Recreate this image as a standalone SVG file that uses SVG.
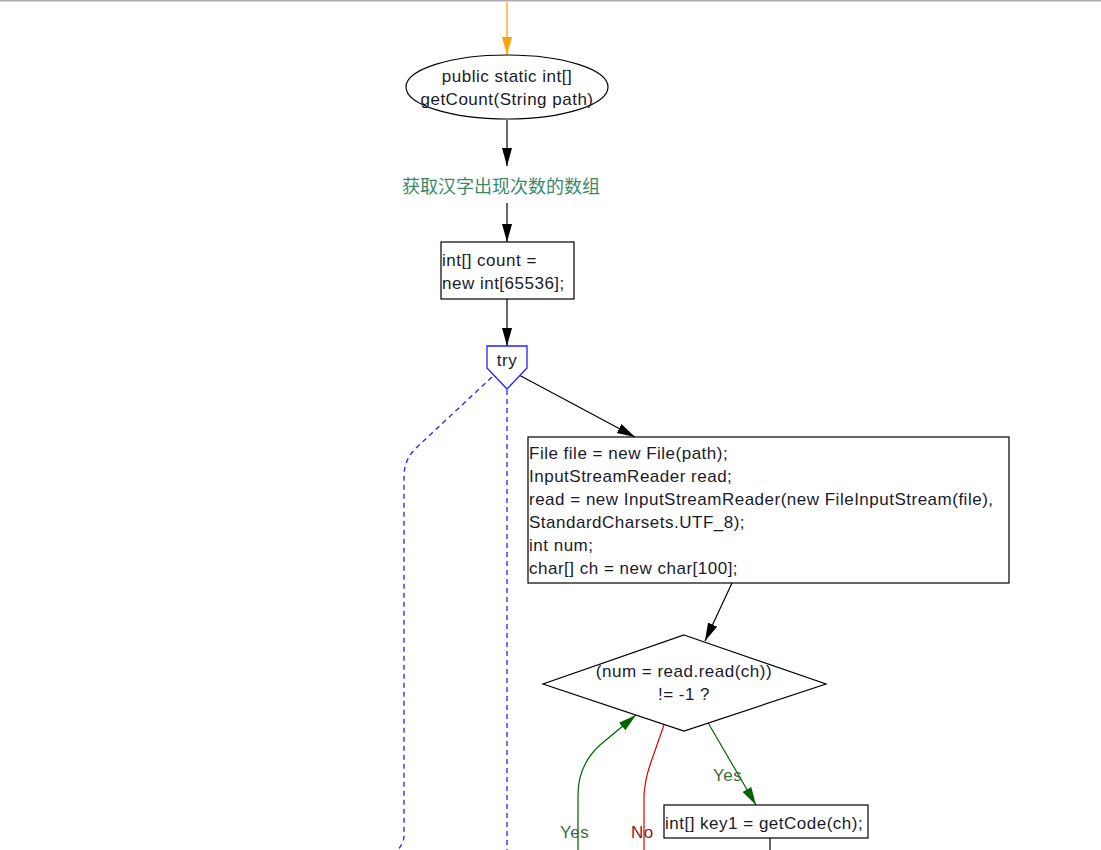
<svg xmlns="http://www.w3.org/2000/svg" width="1101" height="850" viewBox="0 0 1101 850">
<defs>
<style>
.t{font-family:"Liberation Sans",Arial,sans-serif;font-size:17px;letter-spacing:0.5px;fill:#1a1a2a}
.c{text-anchor:middle}
.n{fill:#fff;stroke:#000;stroke-width:1.2}
.e{fill:none;stroke:#000;stroke-width:1.2}
.d{fill:none;stroke:#2020ff;stroke-width:1.3;stroke-dasharray:5,4}
.g{fill:none;stroke:#006400;stroke-width:1.2}
.r{fill:none;stroke:#e00000;stroke-width:1.2}
</style>
<marker id="ab" markerUnits="userSpaceOnUse" markerWidth="20" markerHeight="12" refX="18" refY="6" orient="auto"><path d="M0,1 L18,6 L0,11 Z" fill="#000"/></marker>
<marker id="ag" markerUnits="userSpaceOnUse" markerWidth="20" markerHeight="12" refX="18" refY="6" orient="auto"><path d="M0,1 L18,6 L0,11 Z" fill="#006400"/></marker>
<marker id="ao" markerUnits="userSpaceOnUse" markerWidth="20" markerHeight="12" refX="18" refY="6" orient="auto"><path d="M0,1 L18,6 L0,11 Z" fill="#ffa500"/></marker>
</defs>
<rect width="1101" height="850" fill="#fff"/>
<line x1="0" y1="0.8" x2="1101" y2="0.8" stroke="#aaa" stroke-width="1.6"/>
<g id="connectors">
<line x1="507" y1="2" x2="507" y2="55" stroke="#ffa500" stroke-width="1.3" marker-end="url(#ao)"/>
<line class="e" x1="507" y1="120" x2="507" y2="166" marker-end="url(#ab)"/>
<line class="e" x1="507" y1="203" x2="507" y2="242" marker-end="url(#ab)"/>
<line class="e" x1="507" y1="299" x2="507" y2="346" marker-end="url(#ab)"/>
<line class="e" x1="519" y1="375" x2="635" y2="437" marker-end="url(#ab)"/>
<path class="d" d="M492,377 L416,448 Q404,460 404,476 L404,836 Q404,842 398,850"/>
<line class="d" x1="507" y1="390" x2="507" y2="850"/>
<line class="e" x1="732" y1="583" x2="705" y2="641" marker-end="url(#ab)"/>
<path class="g" d="M707,721 L756,805" marker-end="url(#ag)"/>
<path class="g" d="M578,850 L578,795 Q578,765 600,745 L636,715" marker-end="url(#ag)"/>
<path class="r" d="M665,722 L650,765 Q645,780 644,795 L644,850"/>
<path class="e" d="M770,838 L770,850"/>
<text class="t" x="713" y="781" style="fill:#3c6e3c">Yes</text>
<text class="t" x="560" y="838" style="fill:#3c6e3c">Yes</text>
<text class="t" x="631" y="838" style="fill:#8b2020">No</text>
</g>
<g id="start">
<ellipse class="n" cx="507" cy="87" rx="101" ry="32"/>
<text class="t c" x="507" y="82">public static int[]</text>
<text class="t c" x="507" y="105">getCount(String path)</text>
</g>
<g id="comment">
<text class="c" x="501" y="193" style="fill:#3a8a6a;font-size:18px;font-family:'Liberation Sans','Noto Sans CJK SC',sans-serif">获取汉字出现次数的数组</text>
</g>
<g id="init">
<rect class="n" x="441" y="242" width="133" height="57"/>
<text class="t" x="442" y="266">int[] count =</text>
<text class="t" x="442" y="289">new int[65536];</text>
</g>
<g id="try">
<path d="M487,346 L527,346 L527,368 L507,389 L487,368 Z" fill="#fff" stroke="#2020ff" stroke-width="1.3"/>
<text class="t c" x="507" y="366">try</text>
</g>
<g id="setup">
<rect class="n" x="528" y="437" width="481" height="146"/>
<text class="t" x="529" y="459">File file = new File(path);</text>
<text class="t" x="529" y="482">InputStreamReader read;</text>
<text class="t" x="529" y="505">read = new InputStreamReader(new FileInputStream(file),</text>
<text class="t" x="529" y="528">StandardCharsets.UTF_8);</text>
<text class="t" x="529" y="551">int num;</text>
<text class="t" x="529" y="574">char[] ch = new char[100];</text>
</g>
<g id="loop">
<path class="n" d="M684,635 L826,684 L684,731 L543,684 Z"/>
<text class="t c" x="684" y="677">(num = read.read(ch))</text>
<text class="t c" x="684" y="700">!= -1 ?</text>
</g>
<g id="key1">
<rect class="n" x="664" y="805" width="204" height="33"/>
<text class="t" x="665" y="829">int[] key1 = getCode(ch);</text>
</g>
</svg>
